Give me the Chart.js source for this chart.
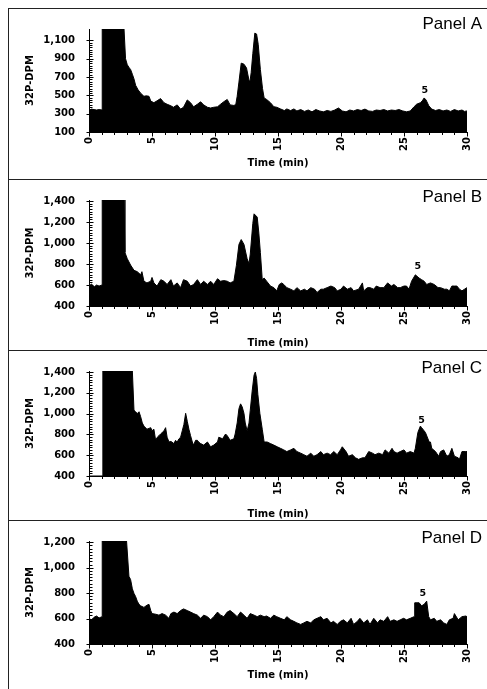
<!DOCTYPE html>
<html><head><meta charset="utf-8">
<script src="https://cdn.jsdelivr.net/npm/chart.js@4.4.1/dist/chart.umd.min.js"></script>
<style>
html,body{margin:0;padding:0;background:#fff;width:487px;height:689px;overflow:hidden;position:relative}
.panel{position:absolute;left:8px;width:479px;border-top:1px solid #222;border-left:1px solid #222;}
.panel canvas{position:absolute;left:0;top:0}
</style></head><body>
<div class="panel" style="top:8px;height:170px"><canvas id="cA" width="478" height="170"></canvas></div>
<div class="panel" style="top:179px;height:170px"><canvas id="cB" width="478" height="170"></canvas></div>
<div class="panel" style="top:350px;height:169px"><canvas id="cC" width="478" height="169"></canvas></div>
<div class="panel" style="top:520px;height:169px"><canvas id="cD" width="478" height="168"></canvas></div>
<script>
// ---------- data ----------
const panelNames = ['Panel A', 'Panel B', 'Panel C', 'Panel D'];
const xTitle = 'Time (min)';
const yTitle = '32P-DPM';
const peakLabel = '5';
const xTicks = [0, 5, 10, 15, 20, 25, 30];

const yTicksA = [100, 300, 500, 700, 900, 1100];
const yTicksB = [400, 600, 800, 1000, 1200, 1400];
const yTicksC = [400, 600, 800, 1000, 1200, 1400];
const yTicksD = [400, 600, 800, 1000, 1200];
const yRangeA = [100, 1225];
const yRangeB = [400, 1410];
const yRangeC = [400, 1410];
const yRangeD = [400, 1210];

// peak "5" label positions [time, DPM]
const peakA = [26.65, 548];
const peakB = [26.1, 773];
const peakC = [26.4, 935];
const peakD = [26.5, 798];

const tA = [0,0.2,0.4,0.6,0.8,1.04,1.05,2.78,2.9,3.04,3.2,3.3,3.44,3.57,3.7,3.9,4.1,4.36,4.55,4.76,4.9,5.15,5.4,5.68,5.95,6.2,6.5,6.7,7.0,7.27,7.5,7.8,8.06,8.3,8.6,8.86,9.1,9.4,9.65,9.9,10.2,10.44,10.7,10.97,11.2,11.5,11.65,11.76,11.9,12.08,12.3,12.5,12.7,12.77,12.87,13.0,13.16,13.3,13.43,13.6,13.77,13.9,14.1,14.4,14.67,14.9,15.2,15.5,15.7,16.0,16.26,16.5,16.8,17.1,17.4,17.7,18.0,18.3,18.6,18.9,19.2,19.5,19.8,20.1,20.4,20.7,21.0,21.3,21.6,21.9,22.2,22.5,22.8,23.1,23.4,23.7,24.0,24.3,24.6,24.9,25.2,25.5,25.8,26.0,26.3,26.45,26.6,26.75,26.97,27.2,27.5,27.8,28.1,28.4,28.7,29.0,29.3,29.6,29.8,30];
const vA = [330,350,345,340,345,340,1225,1225,900,834,800,783,731,680,610,560,524,490,495,490,438,420,440,465,420,403,386,370,396,350,370,450,420,375,403,430,396,370,362,370,375,403,431,455,396,390,400,490,645,852,841,800,662,645,748,955,1180,1170,1058,783,576,472,455,420,376,370,352,334,352,334,352,330,345,325,340,320,345,330,320,335,325,340,362,330,320,340,330,345,335,350,330,325,340,335,345,330,340,335,345,330,320,330,376,403,420,440,472,450,386,350,335,345,330,340,325,345,330,340,325,330];

const tB = [0,0.2,0.4,0.6,0.8,1.04,1.05,2.78,2.85,3.04,3.3,3.57,3.83,4.1,4.2,4.36,4.6,4.9,5.0,5.15,5.4,5.7,5.95,6.2,6.5,6.7,7.0,7.27,7.5,7.8,8.06,8.3,8.6,8.86,9.1,9.4,9.65,9.9,10.2,10.44,10.7,10.97,11.2,11.5,11.7,11.9,12.08,12.3,12.55,12.7,12.8,13.0,13.1,13.35,13.48,13.6,13.75,13.9,14.1,14.4,14.67,14.9,15.1,15.3,15.46,15.7,16.0,16.26,16.5,16.8,17.1,17.3,17.6,17.9,18.1,18.4,18.6,18.9,19.2,19.5,19.7,20.0,20.2,20.5,20.8,21.0,21.4,21.7,21.8,22.1,22.3,22.6,22.8,23.1,23.4,23.7,24.0,24.2,24.5,24.7,25.0,25.2,25.4,25.6,25.9,26.2,26.4,26.6,26.8,27.1,27.4,27.7,27.9,28.2,28.4,28.6,28.8,29.0,29.2,29.4,29.6,29.8,30];
const vB = [590,610,580,600,590,600,1410,1410,910,850,790,740,727,697,727,636,620,636,672,620,590,651,636,605,651,590,620,575,651,636,590,605,651,605,636,605,636,605,660,636,642,636,620,636,788,987,1033,987,850,804,895,1186,1278,1247,1094,910,650,666,636,590,575,544,605,620,605,575,560,544,575,544,560,544,575,560,529,560,560,575,590,575,544,560,590,560,575,544,560,620,544,575,575,560,590,575,575,620,590,605,575,575,590,590,560,636,697,666,651,636,605,620,605,575,575,560,560,544,590,590,590,560,544,560,575];

const tC = [0,1.09,1.1,3.44,3.57,3.7,3.83,3.97,4.1,4.23,4.36,4.6,4.9,5.0,5.15,5.29,5.42,5.55,5.68,5.95,6.08,6.2,6.35,6.5,6.74,6.87,7.0,7.14,7.27,7.4,7.53,7.67,7.8,7.93,8.06,8.2,8.3,8.46,8.6,8.7,8.86,9.1,9.4,9.65,9.9,10.2,10.3,10.6,10.84,10.97,11.2,11.5,11.6,11.76,11.9,12.03,12.16,12.3,12.4,12.55,12.7,12.8,12.95,13.1,13.2,13.3,13.4,13.56,13.75,13.9,14.14,14.4,14.67,14.94,15.2,15.46,15.7,16.0,16.26,16.5,16.8,17.05,17.3,17.6,17.84,18.1,18.4,18.6,18.9,19.17,19.43,19.7,19.96,20.1,20.4,20.6,20.9,21.15,21.4,21.7,21.9,22.2,22.5,22.7,23.0,23.3,23.5,23.8,24.05,24.2,24.45,24.7,25.0,25.2,25.5,25.8,25.9,26.1,26.3,26.4,26.7,27.0,27.1,27.2,27.5,27.75,27.9,28.15,28.4,28.6,28.8,29.0,29.3,29.4,29.6,29.9,30];
const vC = [400,400,1410,1410,1033,1018,1000,1018,970,910,880,850,865,835,850,743,773,788,804,834,865,773,727,733,712,743,727,758,773,834,895,1003,926,850,788,727,697,743,743,727,712,697,727,681,697,727,773,758,804,788,743,758,804,910,1048,1094,1064,1002,910,834,910,1033,1217,1370,1400,1339,1186,1003,850,727,727,712,697,681,666,651,635,651,666,635,620,605,590,620,590,605,635,605,620,605,635,605,651,681,635,590,605,575,560,575,575,635,620,605,620,605,651,620,666,635,620,635,651,620,635,620,666,819,880,865,819,727,727,666,635,590,635,651,590,605,666,590,575,560,635,635,635];

const tD = [0,0.2,0.4,0.6,0.8,1.04,1.05,2.98,3.17,3.3,3.44,3.57,3.7,3.83,3.97,4.1,4.36,4.6,4.76,4.9,5.0,5.3,5.55,5.8,6.08,6.34,6.5,6.74,7.0,7.27,7.5,7.8,8.06,8.3,8.6,8.86,9.1,9.4,9.65,9.9,10.2,10.44,10.7,10.97,11.2,11.5,11.76,12.03,12.3,12.55,12.8,13.1,13.35,13.6,13.9,14.1,14.4,14.67,14.9,15.2,15.5,15.7,16.0,16.26,16.5,16.8,17.05,17.3,17.6,17.84,18.1,18.4,18.6,18.9,19.2,19.4,19.7,19.96,20.2,20.5,20.8,21.0,21.3,21.5,21.8,22.1,22.3,22.6,22.9,23.1,23.4,23.7,23.9,24.2,24.45,24.7,24.97,25.2,25.5,25.8,25.85,26.2,26.4,26.6,26.8,26.96,27.1,27.4,27.6,27.9,28.15,28.4,28.6,28.9,29.0,29.3,29.6,29.9,30];
const vD = [600,590,610,620,605,615,1210,1210,932,907,834,798,773,737,712,700,688,705,712,663,639,634,627,639,627,602,639,651,639,663,676,663,651,639,627,602,627,615,590,615,651,627,615,651,663,639,615,651,627,602,639,627,615,627,615,620,602,627,615,602,590,615,590,578,566,554,566,578,566,590,602,615,590,602,566,578,554,578,590,566,602,554,578,602,566,590,554,602,566,590,578,615,578,590,578,590,602,590,602,615,724,724,700,712,737,615,590,602,578,590,566,554,590,602,639,590,615,620,615];

// ---------- drawing ----------
Chart.defaults.font.family = '"DejaVu Sans", sans-serif';
Chart.defaults.font.weight = 'bold';
Chart.defaults.font.size = 10;
Chart.defaults.color = '#000';

const decor = {
  id: 'decor',
  afterDraw(chart, args, o) {
    const {ctx} = chart;
    const x = chart.scales.x, y = chart.scales.y;
    const L = Math.round(x.left) + 0.5, B = Math.round(y.bottom) + 0.5;
    ctx.save();
    ctx.strokeStyle = '#000';
    ctx.lineWidth = 1;
    ctx.beginPath();
    const yt = o.yTicks;
    for (let i = 0; i < yt.length; i++) {
      const p = Math.round(y.getPixelForValue(yt[i])) + 0.5;
      ctx.moveTo(L - 3, p); ctx.lineTo(L + 4, p);
      if (i < yt.length - 1) {
        const step = (yt[i + 1] - yt[i]) / 8;
        for (let k = 1; k < 8; k++) {
          const q = Math.round(y.getPixelForValue(yt[i] + k * step)) + 0.5;
          ctx.moveTo(L, q); ctx.lineTo(L + 3, q);
        }
      }
    }
    for (let i = 0; i < xTicks.length; i++) {
      const p = Math.round(x.getPixelForValue(xTicks[i])) + 0.5;
      ctx.moveTo(p, B); ctx.lineTo(p, B + 4);
      if (i < xTicks.length - 1) {
        const step = (xTicks[i + 1] - xTicks[i]) / 5;
        for (let k = 1; k < 5; k++) {
          const q = Math.round(x.getPixelForValue(xTicks[i] + k * step)) + 0.5;
          ctx.moveTo(q, B); ctx.lineTo(q, B + 2.5);
        }
      }
    }
    ctx.stroke();
    ctx.fillStyle = '#000';
    ctx.font = 'bold 9.5px "DejaVu Sans"';
    ctx.textAlign = 'center';
    ctx.textBaseline = 'middle';
    ctx.fillText(peakLabel, x.getPixelForValue(o.peak[0]), y.getPixelForValue(o.peak[1]));
    ctx.font = '17px "Liberation Sans"';
    ctx.textAlign = 'right';
    ctx.textBaseline = 'alphabetic';
    ctx.fillText(o.name, chart.width - 5, o.nameY);
    ctx.restore();
  }
};

function makePanel(id, times, vals, yTicks, yRange, peak, name, padTop, xH, titlePad, nameY) {
  return new Chart(document.getElementById(id), {
    type: 'line',
    data: {
      datasets: [{
        data: times.map((t, i) => ({x: t, y: vals[i]})),
        fill: 'start',
        backgroundColor: '#000',
        borderColor: '#000',
        borderWidth: 1,
        pointRadius: 0,
        tension: 0
      }]
    },
    options: {
      responsive: false,
      animation: false,
      events: [],
      layout: {padding: {top: padTop, right: 20, left: 0, bottom: 0}},
      plugins: {
        legend: {display: false},
        tooltip: {enabled: false},
        decor: {yTicks: yTicks, peak: peak, name: name, nameY: nameY}
      },
      scales: {
        x: {
          type: 'linear', min: 0, max: 30,
          grid: {display: false, drawTicks: false},
          border: {display: true, color: '#000', width: 1},
          afterBuildTicks: s => { s.ticks = xTicks.map(v => ({value: v})); },
          afterFit: s => { s.height = xH; },
          ticks: {autoSkip: false, minRotation: 90, maxRotation: 90, padding: 5, color: '#000',
                  font: {size: 10, weight: 'bold'}},
          title: {display: true, text: xTitle, color: '#000', font: {size: 10, weight: 'bold'},
                  padding: {top: 0, bottom: titlePad}}
        },
        y: {
          type: 'linear', min: yRange[0], max: yRange[1],
          grid: {display: false, drawTicks: false},
          border: {display: true, color: '#000', width: 1},
          afterBuildTicks: s => { s.ticks = yTicks.map(v => ({value: v})); },
          afterFit: s => { s.width = 80; },
          ticks: {padding: 14, color: '#000', font: {size: 10, weight: 'bold'},
                  callback: v => v.toLocaleString('en-US')},
          title: {display: true, text: yTitle, color: '#000', font: {size: 10, weight: 'bold'},
                  padding: {top: 15, bottom: 0}}
        }
      }
    },
    plugins: [decor]
  });
}

makePanel('cA', tA, vA, yTicksA, yRangeA, peakA, panelNames[0], 15, 47, 10, 20);
makePanel('cB', tB, vB, yTicksB, yRangeB, peakB, panelNames[1], 16, 44, 1, 22);
makePanel('cC', tC, vC, yTicksC, yRangeC, peakC, panelNames[2], 15, 44, 0, 22);
makePanel('cD', tD, vD, yTicksD, yRangeD, peakD, panelNames[3], 15, 45, 8, 22);
</script>
</body></html>
